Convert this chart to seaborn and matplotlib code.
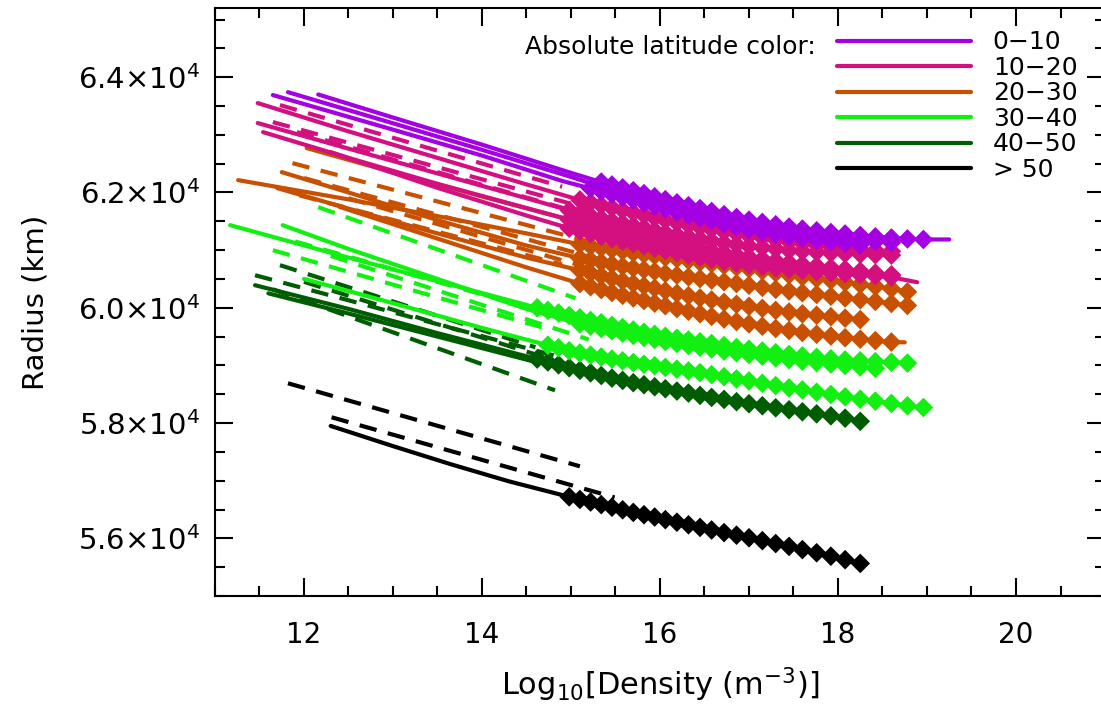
import numpy as np
import pandas as pd
import matplotlib
matplotlib.use("Agg")
import matplotlib.pyplot as plt
import seaborn as sns
from matplotlib.ticker import MultipleLocator, FixedLocator, FuncFormatter
from matplotlib.lines import Line2D

# ---------------- data ----------------
GROUPS = ["0\u221210", "10\u221220", "20\u221230", "30\u221240", "40\u221250", "> 50"]
COLORS = ["#A400E4", "#D40F80", "#C85000", "#12F012", "#005C00", "#000000"]

N = None
# common density grid for the diamond (model) points
DX = [14.62, 14.74, 14.86, 14.98, 15.10, 15.22, 15.34, 15.46, 15.58, 15.70, 15.82,
      15.94, 16.06, 16.19, 16.32, 16.45, 16.58, 16.72, 16.86, 17.00, 17.15, 17.30,
      17.45, 17.60, 17.76, 17.92, 18.08, 18.25, 18.42, 18.60, 18.78, 18.96]

# ---- 0-10 ----
PURPLE_SOLID = [
    [(12.16, 63700), (13.0, 63300), (14.0, 62830), (15.0, 62340)],
    [(11.82, 63740), (13.0, 63200), (14.0, 62740), (15.0, 62270)],
    [(11.65, 63690), (13.0, 63090), (14.0, 62640), (14.9, 62200)],
]
PURPLE_DIAMONDS = [
    [N, N, N, N, N, N, 62180, 62130, 62080, 62030, 61980, 61925, 61875, 61820, 61770, 61720,
     61670, 61615, 61565, 61520, 61480, 61440, 61400, 61365, 61335, 61305, 61280, 61255,
     61230, 61210, 61195, 61185],
    [N, N, N, N, N, N, 62100, 62050, 62000, 61950, 61900, 61845, 61795, 61740, 61690, 61640,
     61590, 61535, 61485, 61440, 61400, 61360, 61320, 61285, 61255, 61225, 61200, 61175,
     61150, 61130, N, N],
    [N, N, N, N, N, 62070, 62020, 61970, 61920, 61870, 61820, 61765, 61715, 61660, 61610,
     61560, 61510, 61455, 61405, 61360, 61320, 61280, 61240, 61205, 61175, 61145, 61120,
     61095, N, N, N, N],
]
PURPLE_TAILS = [(19.25, 61185), None, None]
PURPLE_DASHED = []

# ---- 10-20 ----
MAGENTA_SOLID = [
    [(11.48, 63551), (12.5, 63060), (13.5, 62600), (14.5, 62140)],
    [(11.48, 63204), (12.5, 62760), (13.5, 62330), (14.5, 61900)],
    [(11.54, 63047), (12.5, 62600), (13.5, 62150), (14.5, 61730)],
    [(12.3, 62700), (13.5, 62080), (14.5, 61600)],
]
MAGENTA_DIAMONDS = [
    [N, N, N, N, 61870, 61825, 61780, 61735, 61690, 61650, 61605, 61560, 61520, 61475, 61435,
     61395, 61360, 61320, 61285, 61250, 61215, 61180, 61150, 61120, 61090, 61065, 61040,
     61015, 60995, 60980, N, N],
    [N, N, N, 61690, 61640, 61595, 61550, 61505, 61465, 61425, 61385, 61340, 61300, 61265,
     61230, 61195, 61160, 61125, 61095, 61070, 61045, 61020, 60995, 60980, 60965, 60950,
     60940, 60930, 60920, 60912, N, N],
    [N, N, N, 61530, 61480, 61435, 61390, 61345, 61305, 61265, 61225, 61180, 61140, 61100,
     61060, 61025, 60990, 60950, 60915, 60880, 60845, 60815, 60780, 60750, 60725, 60695,
     60665, 60635, 60600, 60570, N, N],
    [N, N, N, 61380, 61330, 61285, 61240, 61195, 61155, 61115, 61075, 61035, 60995, 60955,
     60915, 60875, 60840, 60805, 60775, 60745, 60715, 60690, 60665, 60645, 60625, 60605,
     60590, 60575, 60555, 60530, N, N],
]
MAGENTA_TAILS = [None, None, None, (18.89, 60443)]
MAGENTA_DASHED = [
    [(11.73, 63516), (14.9, 62100)],
    [(11.65, 63221), (15.2, 61720)],
    [(11.92, 63047), (15.3, 61560)],
]

# ---- 20-30 ----
ORANGE_SOLID = [
    [(12.03, 62770), (13.0, 62350), (14.0, 61930), (14.9, 61560)],
    [(11.26, 62214), (12.5, 61880), (13.5, 61590), (14.5, 61290)],
    [(11.75, 62353), (12.5, 62000), (13.5, 61520), (14.5, 61080)],
    [(11.70, 62075), (12.5, 61720), (13.5, 61290), (14.5, 60870)],
    [(12.40, 61750), (13.5, 61200), (14.5, 60700)],
]
ORANGE_DIAMONDS = [
    [N, N, N, N, 61450, 61405, 61360, 61315, 61275, 61235, 61195, 61155, 61115, 61080, 61045,
     61010, 60975, 60940, 60905, 60870, 60835, 60805, 60775, 60745, 60715, 60685, 60655,
     60625, 60595, 60565, N, N],
    [N, N, N, N, 61100, 61070, 61040, 61010, 60985, 60955, 60930, 60905, 60875, 60850, 60820,
     60790, 60765, 60735, 60705, 60675, 60640, 60605, 60570, 60535, 60505, 60475, 60440,
     60405, 60370, 60330, 60275, N],
    [N, N, N, N, 60860, 60825, 60790, 60755, 60720, 60690, 60660, 60630, 60595, 60565, 60535,
     60505, 60480, 60450, 60420, 60390, 60355, 60320, 60290, 60260, 60230, 60200, 60170,
     60140, 60110, 60075, 60040, N],
    [N, N, N, N, 60650, 60600, 60555, 60510, 60465, 60420, 60380, 60340, 60295, 60250, 60210,
     60170, 60135, 60095, 60060, 60025, 59990, 59955, 59925, 59895, 59870, 59845, 59820,
     59795, N, N, N, N],
    [N, N, N, N, 60420, 60365, 60315, 60265, 60215, 60170, 60125, 60080, 60035, 59985, 59940,
     59895, 59850, 59805, 59760, 59720, 59680, 59640, 59605, 59570, 59540, 59510, 59480,
     59455, 59430, 59405, N, N],
]
ORANGE_TAILS = [None, None, None, None, (18.75, 59400)]
ORANGE_DASHED = [
    [(11.87, 62509), (15.2, 61150)],
    [(12.00, 62250), (15.3, 60850)],
    [(12.50, 61900), (15.4, 60600)],
    [(11.95, 61950), (14.9, 60750)],
]

# ---- 30-40 ----
LTGREEN_SOLID = [
    [(11.17, 61433), (12.5, 60870), (13.5, 60460)],
    [(11.76, 61433), (12.5, 61020), (13.5, 60500), (14.5, 59980)],
    [(12.00, 60500), (13.0, 60080), (14.0, 59650)],
]
LTGREEN_DIAMONDS = [
    [60000, 59955, 59910, 59865, 59825, 59780, 59740, 59695, 59655, 59615, 59575, 59540,
     59505, 59470, 59440, 59410, 59380, 59345, 59310, 59280, 59250, 59220, 59190, 59165,
     59140, 59115, 59095, 59080, 59065, 59055, 59040, N],
    [N, N, N, N, 59720, 59680, 59640, 59600, 59560, 59520, 59485, 59450, 59415, 59380, 59345,
     59315, 59285, 59250, 59220, 59190, 59160, 59130, 59100, 59075, 59050, 59025, 59000,
     58975, 58950, N, N, N],
    [N, 59350, 59305, 59255, 59215, 59180, 59145, 59110, 59080, 59050, 59020, 58995, 58965,
     58935, 58905, 58875, 58840, 58805, 58765, 58730, 58690, 58650, 58610, 58575, 58535,
     58495, 58455, 58415, 58380, 58340, 58300, 58270],
]
LTGREEN_TAILS = [None, None, None]
LTGREEN_DASHED = [
    [(12.16, 61745), (15.05, 60166)],
    [(11.65, 60999), (14.67, 59662)],
    [(11.90, 61150), (15.10, 59750)],
    [(12.30, 60900), (15.20, 59450)],
]

# ---- 40-50 ----
DKGREEN_SOLID = [
    [(11.45, 60391), (12.5, 59980), (13.5, 59560)],
    [(11.60, 60250), (12.5, 59900), (13.5, 59500), (14.6, 59060)],
]
DKGREEN_DIAMONDS = [
    [59110, 59060, 59010, 58960, 58915, 58870, 58825, 58780, 58740, 58700, 58665, 58630,
     58595, 58555, 58520, 58480, 58445, 58410, 58370, 58335, 58300, 58265, 58230, 58195,
     58160, 58125, 58085, 58030, N, N, N, N],
    None,
]
DKGREEN_TAILS = [None, None]
DKGREEN_DASHED = [
    [(11.45, 60565), (14.84, 59159)],
    [(11.65, 60320), (14.82, 58568)],
    [(11.73, 60739), (14.60, 59315)],
    [(12.00, 60450), (15.10, 58950)],
]

# ---- > 50 ----
BLACK_SOLID = [[(12.3, 57950), (13.0, 57600), (13.64, 57290), (14.3, 56990)]]
BLACK_DIAMONDS = [
    [N, N, N, 56720, 56675, 56630, 56585, 56540, 56495, 56450, 56410, 56370, 56325, 56280,
     56235, 56190, 56145, 56100, 56055, 56010, 55960, 55910, 55860, 55805, 55750, 55690,
     55630, 55565, N, N, N, N],
]
BLACK_TAILS = [None]
BLACK_DASHED = [
    [(11.82, 58690), (15.10, 57250)],
    [(12.31, 58100), (15.49, 56710)],
]

# ---------------- build long-form tables ----------------
SERIES = {
    GROUPS[0]: (PURPLE_SOLID, PURPLE_DIAMONDS, PURPLE_TAILS, PURPLE_DASHED),
    GROUPS[1]: (MAGENTA_SOLID, MAGENTA_DIAMONDS, MAGENTA_TAILS, MAGENTA_DASHED),
    GROUPS[2]: (ORANGE_SOLID, ORANGE_DIAMONDS, ORANGE_TAILS, ORANGE_DASHED),
    GROUPS[3]: (LTGREEN_SOLID, LTGREEN_DIAMONDS, LTGREEN_TAILS, LTGREEN_DASHED),
    GROUPS[4]: (DKGREEN_SOLID, DKGREEN_DIAMONDS, DKGREEN_TAILS, DKGREEN_DASHED),
    GROUPS[5]: (BLACK_SOLID, BLACK_DIAMONDS, BLACK_TAILS, BLACK_DASHED),
}
DRAW_ORDER = GROUPS[::-1]          # black first, purple on top
PALETTE = dict(zip(GROUPS, COLORS))

line_rows, dia_rows = [], []
tid = 0
for g in DRAW_ORDER:
    solids, dias, tails, dashed = SERIES[g]
    for knots, dia, tail in zip(solids, dias, tails):
        pts = list(knots)
        if dia is not None:
            for xv, yv in zip(DX, dia):
                if yv is not None:
                    pts.append((xv, yv))
                    dia_rows.append((xv, yv, g))
        if tail is not None:
            pts.append(tail)
        for xv, yv in pts:
            line_rows.append((xv, yv, g, tid, "solid"))
        tid += 1
    for seg in dashed:
        for xv, yv in seg:
            line_rows.append((xv, yv, g, tid, "dashed"))
        tid += 1

lines_df = pd.DataFrame(line_rows, columns=["density", "radius", "lat", "track", "kind"])
dia_df = pd.DataFrame(dia_rows, columns=["density", "radius", "lat"])

# ---------------- plot ----------------
sns.set_style("white")
plt.rcParams["font.family"] = ["DejaVu Sans"]
plt.rcParams["mathtext.fontset"] = "dejavusans"
plt.rcParams["text.color"] = "black"
plt.rcParams["axes.labelcolor"] = "black"
plt.rcParams["xtick.color"] = "black"
plt.rcParams["ytick.color"] = "black"

fig = plt.figure(figsize=(11.01, 7.04), dpi=100)
ax = fig.add_axes([215 / 1101, 108 / 704, 890 / 1101, 588 / 704])

sns.lineplot(data=lines_df, x="density", y="radius", hue="lat", hue_order=DRAW_ORDER,
             style="kind", style_order=["dashed", "solid"],
             dashes={"solid": "", "dashed": (4.2, 2.8)},
             units="track", estimator=None, sort=False, palette=PALETTE,
             linewidth=3, legend=False, ax=ax)
sns.scatterplot(data=dia_df, x="density", y="radius", hue="lat", palette=PALETTE,
                marker="D", s=100, linewidth=0, legend=False, ax=ax, zorder=3)

ax.set_xlim(11, 21)
ax.set_ylim(55000, 65200)
ax.xaxis.set_major_locator(FixedLocator([12, 14, 16, 18, 20]))
ax.xaxis.set_minor_locator(MultipleLocator(0.5))
ax.yaxis.set_major_locator(FixedLocator([56000, 58000, 60000, 62000, 64000]))
ax.yaxis.set_minor_locator(MultipleLocator(500))
ax.yaxis.set_major_formatter(FuncFormatter(lambda v, p: f"{v/1e4:.1f}\u00d710$^{{4}}$"))
ax.xaxis.set_major_formatter(FuncFormatter(lambda v, p: f"{v:.0f}"))

for s in ax.spines.values():
    s.set_linewidth(1.5)
    s.set_color("black")
ax.tick_params(which="both", direction="in", top=True, right=True, bottom=True, left=True,
               width=1.5, color="black", labelcolor="black")
ax.tick_params(which="major", length=13)
ax.tick_params(which="minor", length=7)
ax.tick_params(axis="x", which="major", labelsize=20, pad=18)
ax.tick_params(axis="y", which="major", labelsize=21, pad=11)

ax.set_xlabel("Log$_{10}$[Density (m$^{-3}$)]", fontsize=22, color="black")
ax.xaxis.set_label_coords(0.5, -0.118)
ax.xaxis.label.set_va("top")
ax.set_ylabel("Radius (km)", fontsize=21, color="black")
ax.yaxis.set_label_coords(-0.186, 0.5)

# legend
handles = [Line2D([], [], color=c, lw=3) for c in COLORS]
leg = ax.legend(handles, GROUPS, loc="upper left", bbox_to_anchor=(0.699, 0.962),
                frameon=False, fontsize=18, handlelength=5.35, handletextpad=0.88,
                labelspacing=0.06, borderpad=0, borderaxespad=0)
for t in leg.get_texts():
    t.set_color("black")
ax.text(0.675, 0.934, "Absolute latitude color:", transform=ax.transAxes,
        ha="right", va="center", fontsize=18, color="black")

fig.savefig("out.png", dpi=100)
